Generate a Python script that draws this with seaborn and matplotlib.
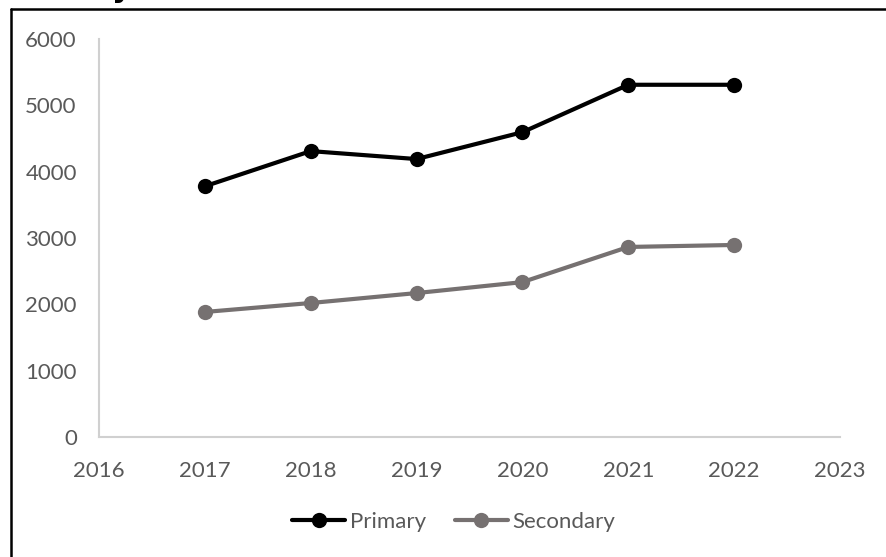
import matplotlib
matplotlib.use("Agg")
import matplotlib.pyplot as plt
from matplotlib.lines import Line2D
import seaborn as sns
import pandas as pd

years = [2017, 2018, 2019, 2020, 2021, 2022]
primary = [3780, 4310, 4190, 4595, 5310, 5310]
secondary = [1885, 2020, 2170, 2335, 2865, 2895]
series_names = ["Primary", "Secondary"]
series_colors = ["#000000", "#767171"]
x_ticks = [2016, 2017, 2018, 2019, 2020, 2021, 2022, 2023]
y_ticks = [0, 1000, 2000, 3000, 4000, 5000, 6000]

df = pd.DataFrame({
    "Year": years * 2,
    "Value": primary + secondary,
    "Series": [series_names[0]] * len(years) + [series_names[1]] * len(years),
})

sns.set_theme(style="white")
plt.rcParams["font.family"] = ["Lato", "DejaVu Sans"]

W, H = 886, 557
fig = plt.figure(figsize=(W / 100, H / 100), dpi=100)
ax = fig.add_axes([99 / W, 1 - 437 / H, (840 - 99) / W, (437 - 39) / H])

sns.lineplot(data=df, x="Year", y="Value", hue="Series", hue_order=series_names,
             palette=series_colors, marker="o", markersize=11, linewidth=3,
             markeredgewidth=0, legend=False, ax=ax)

ax.set_xlim(2016, 2023)
ax.set_ylim(0, 6000)
ax.set_xticks(x_ticks)
ax.set_yticks(y_ticks)
ax.set_xlabel("")
ax.set_ylabel("")
for s in ["top", "right"]:
    ax.spines[s].set_visible(False)
for s in ["left", "bottom"]:
    ax.spines[s].set_color("#d0d0d0")
    ax.spines[s].set_linewidth(1.5)
ax.tick_params(axis="both", length=0, labelsize=16, colors="#595959")
ax.tick_params(axis="y", pad=16)
ax.tick_params(axis="x", pad=17)

handles = [Line2D([0], [0], color=c, lw=3, marker="o", markersize=11, markeredgewidth=0)
           for c in series_colors]
leg = fig.legend(handles, series_names, loc="center", bbox_to_anchor=(0.512, 1 - 522 / H),
                 ncol=2, frameon=False, fontsize=16, handlelength=2.4,
                 handletextpad=0.2, columnspacing=1.3)
for t in leg.get_texts():
    t.set_color("#595959")

# outer chart frame and title
fig.add_artist(Line2D([11 / W, 1.01], [1 - 9 / H, 1 - 9 / H], color="black", lw=1.8,
                      transform=fig.transFigure))
fig.add_artist(Line2D([11 / W, 11 / W], [1 - 9 / H, -0.01], color="black", lw=1.8,
                      transform=fig.transFigure))
fig.text(112 / W, 1 + 3 / H, "y", fontsize=22, fontweight="bold", va="baseline",
         ha="left", color="black", family="DejaVu Sans")

fig.savefig("out.png", dpi=100)
